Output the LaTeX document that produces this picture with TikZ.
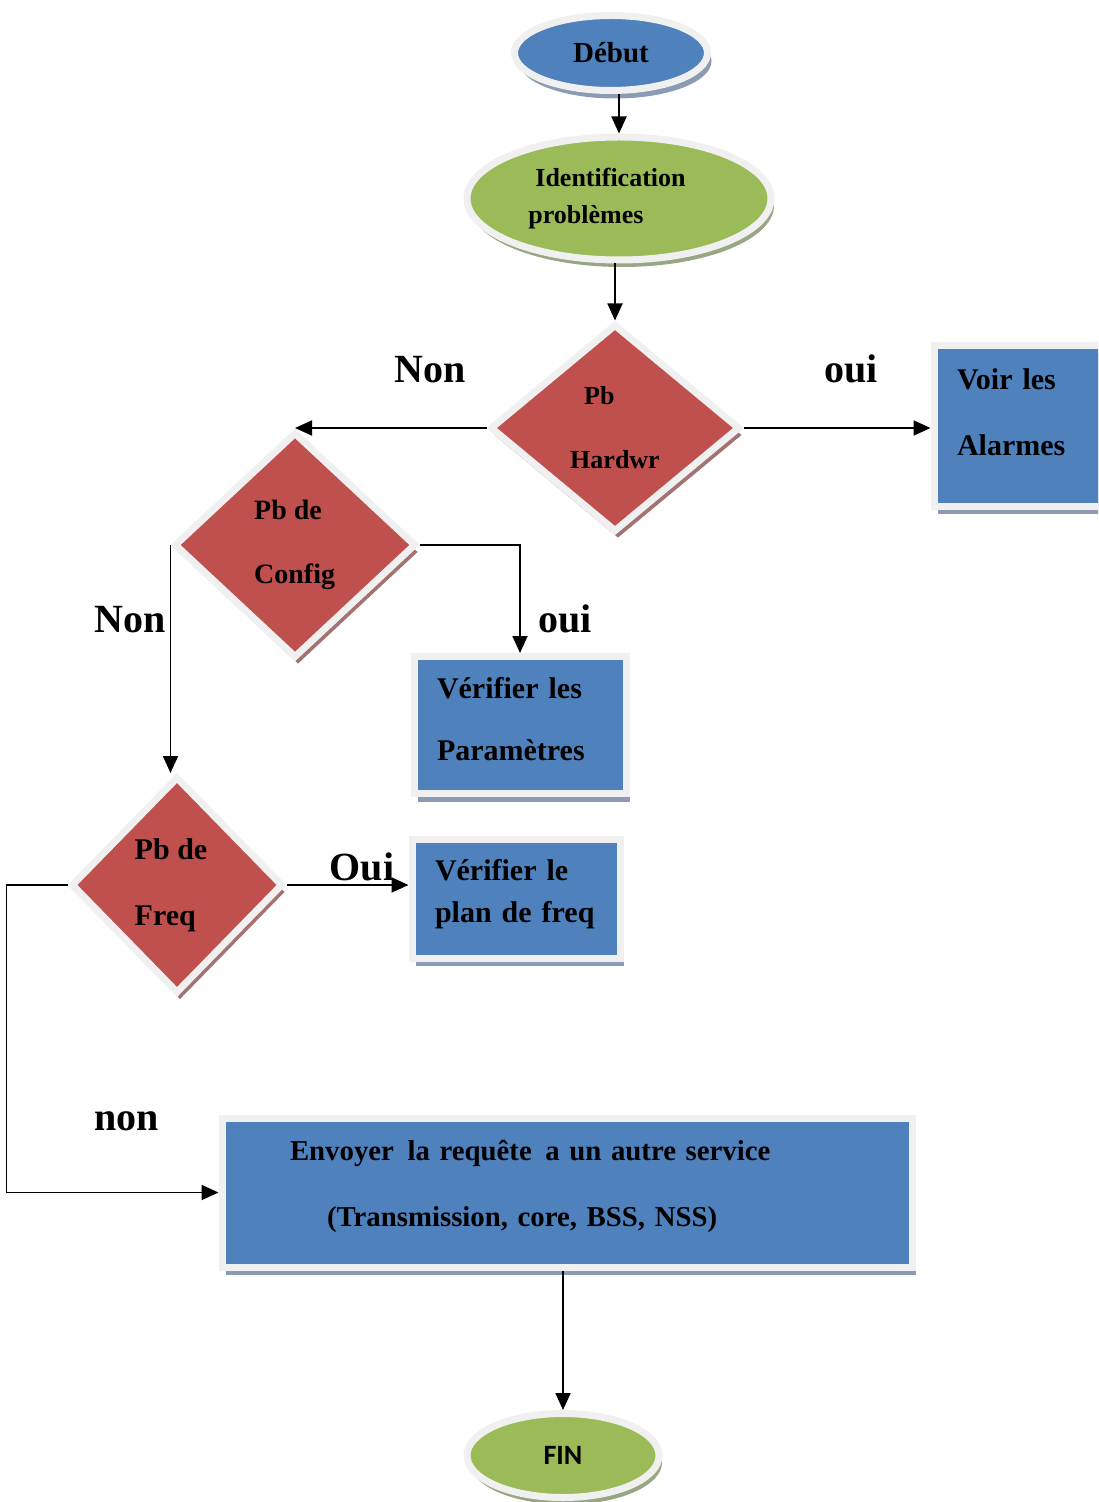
\documentclass[tikz,border=0pt]{standalone}
\usepackage{fontspec}
\setmainfont{Liberation Serif}
\newfontfamily\finfont{Carlito}
\usetikzlibrary{arrows.meta,shapes.geometric,shadows}

\definecolor{bleu}{HTML}{4F81BD}
\definecolor{vert}{HTML}{9BBB59}
\definecolor{rouge}{HTML}{C0504D}
\definecolor{bord}{HTML}{F0F0F0}
\definecolor{ombrebleu}{HTML}{8C9BB4}
\definecolor{ombrevert}{HTML}{98A684}
\definecolor{ombrerouge}{HTML}{A47272}

\begin{document}
\begin{tikzpicture}[
      x=0.5pt,y=-0.5pt,
      ombreB/.style={drop shadow={shadow xshift=2pt,shadow yshift=-4pt,fill=ombrebleu,opacity=1}},
      ombreV/.style={drop shadow={shadow xshift=1.5pt,shadow yshift=-3.5pt,fill=ombrevert,opacity=1}},
      ombreR/.style={drop shadow={shadow xshift=1.5pt,shadow yshift=-3.5pt,fill=ombrerouge,opacity=1}},
      bulle/.style={
         ellipse,
         draw=bord,
         line width=3.5pt,
         inner sep=0pt},
      choix/.style={
         diamond,
         draw=bord,
         fill=rouge,
         line width=3.5pt,
         inner sep=0pt,
         align=left,
         ombreR},
      tache/.style={
         rectangle,
         draw=bord,
         fill=bleu,
         line width=3.5pt,
         inner ysep=2pt,
         inner xsep=11.5pt,
         align=left,
         ombreB},
      etiquette/.style={anchor=base,font=\bfseries\fontsize{20}{24}\selectfont},
      fleche/.style={-{Triangle[length=8.5pt,width=7.5pt]},line width=0.9pt}
      ]
      \useasboundingbox (0,0) rectangle (1098,1502);
      \clip (0,0) rectangle (1098,1502);

      % debut et identification
      \node[bulle,fill=bleu,ombreB,minimum width=96.5pt,minimum height=37.5pt,
            font=\bfseries\fontsize{14.5}{17}\selectfont] (debut) at (611,53) {Début};
      \node[bulle,fill=vert,ombreV,minimum width=152pt,minimum height=61.5pt,align=left,
            font=\bfseries\fontsize{13}{18.5}\selectfont] (ident) at (619,198.5)
            {\hspace*{3.5pt}Identification\rule{12pt}{0pt}\\problèmes};

      % les trois tests
      \node[choix,minimum width=125pt,minimum height=104pt,
            font=\bfseries\fontsize{13}{32}\selectfont] (hard) at (615,428) {\hspace*{7pt}Pb\\Hardwr};
      \node[choix,minimum width=121pt,minimum height=113pt,
            font=\bfseries\fontsize{14}{32}\selectfont] (config) at (295,545) {Pb de\rule{7pt}{0pt}\\Config};
      \node[choix,minimum width=106pt,minimum height=108.5pt,
            font=\bfseries\fontsize{15}{33}\selectfont] (freq) at (177,885) {Pb de\rule{6pt}{0pt}\\Freq};

      % les actions
      \node[tache,minimum width=96pt,minimum height=80pt,text width=73pt,text depth=47pt,
            font=\bfseries\fontsize{15}{33}\selectfont] (voir) at (1030,426) {Voir les\\Alarmes};
      \node[tache,minimum width=106pt,minimum height=68.5pt,text width=83pt,text depth=37pt,
            font=\bfseries\fontsize{15}{31}\selectfont] (param) at (520,725) {Vérifier les\\Paramètres};
      \node[tache,minimum width=104pt,minimum height=59.5pt,text width=81pt,text depth=29pt,
            font=\bfseries\fontsize{15}{21}\selectfont] (plan) at (516,898.5) {Vérifier le\\plan de freq};
      \node[tache,minimum width=345pt,minimum height=74.5pt,text width=277pt,inner xsep=34pt,text depth=42.5pt,
            font=\bfseries\fontsize{14.4}{33}\selectfont] (envoi) at (567,1192.5)
            {Envoyer\ \hspace{2pt}la requête\ \hspace{2pt}a un autre service\\\hspace*{18.5pt}(Transmission, core, BSS, NSS)};

      \node[bulle,fill=vert,ombreV,minimum width=96pt,minimum height=42pt,
            font=\finfont\bfseries\fontsize{14}{17}\selectfont] (fin) at (563,1455.5) {FIN};

      % fleches
      \draw[fleche] (debut.south -| ident.north) -- (ident.north);
      \draw[fleche] (ident.south -| hard.north) -- (hard.north);
      \draw[fleche] (hard.west) -- (hard.west -| config.north);
      \draw[fleche] (hard.east) -- (hard.east -| voir.west);
      \draw[fleche] (config.east) -| (param.north);
      \draw[fleche] (config.west) -- (config.west |- freq.north);
      \draw[fleche] (freq.east) -- (freq.east -| plan.west);
      \draw[fleche] (freq.west) -- ++(-61,0) |- (envoi.west);
      \draw[fleche] (envoi.south -| fin.north) -- (fin.north);

      % oui / non
      \node[etiquette] (nonhard) at (430,383) {Non};
      \node[etiquette] (ouihard) at (851,383) {oui};
      \node[etiquette] (nonconf) at (130,632) {Non};
      \node[etiquette] (ouiconf) at (565,632) {oui};
      \node[etiquette] (ouifreq) at (362,880) {Oui};
      \node[etiquette] (nonfreq) at (127,1130) {non};

    \end{tikzpicture}
\end{document}
